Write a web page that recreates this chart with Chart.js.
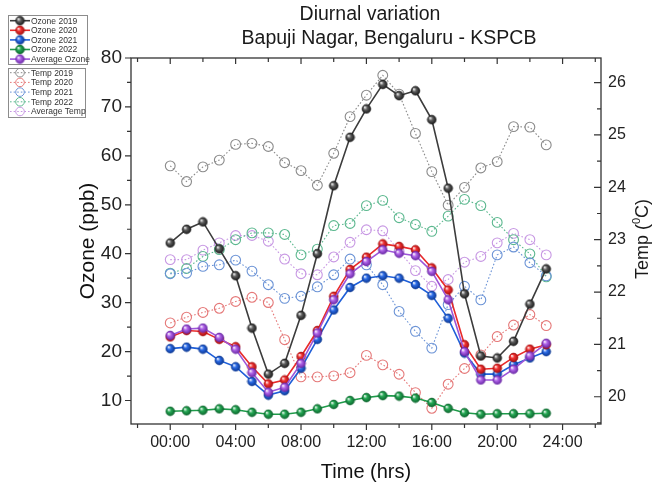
<!DOCTYPE html>
<html>
<head>
<meta charset="utf-8">
<script src="https://cdn.jsdelivr.net/npm/chart.js@4.4.1/dist/chart.umd.min.js"></script>
<style>
  html, body { margin: 0; padding: 0; background: #fff; }
</style>
</head>
<body>
<canvas id="chart" width="654" height="486"></canvas>
<script>
// hours of the day
const hours = [0, 1, 2, 3, 4, 5, 6, 7, 8, 9, 10, 11, 12, 13, 14, 15, 16, 17, 18, 19, 20, 21, 22, 23];

// ozone (ppb)
const ozone2019 = [42.2, 45.0, 46.5, 41.0, 35.5, 24.8, 15.4, 17.6, 27.4, 40.0, 53.9, 63.8, 69.6, 74.6, 72.3, 73.3, 67.4, 53.4, 31.8, 19.1, 18.7, 22.1, 29.7, 36.9];
const ozone2020 = [23.0, 24.3, 24.1, 22.5, 21.0, 16.9, 13.4, 14.2, 19.0, 24.3, 31.3, 36.8, 39.3, 42.0, 41.5, 40.8, 37.1, 32.6, 21.4, 16.4, 16.6, 18.8, 20.5, 21.4];
const ozone2021 = [20.6, 20.9, 20.5, 18.2, 16.9, 13.9, 11.1, 12.0, 16.6, 22.5, 28.5, 33.1, 35.0, 35.5, 35.0, 33.7, 31.5, 26.8, 19.7, 15.4, 15.4, 17.3, 18.7, 20.0];
const ozone2022 = [7.8, 7.9, 8.0, 8.3, 8.1, 7.6, 7.2, 7.2, 7.6, 8.3, 9.2, 10.0, 10.6, 11.0, 10.9, 10.5, 9.6, 8.4, 7.5, 7.2, 7.3, 7.3, 7.3, 7.4];
const ozoneAvg = [23.3, 24.6, 24.8, 22.9, 20.5, 15.7, 11.7, 12.7, 17.6, 23.8, 30.6, 35.9, 38.4, 40.8, 40.1, 39.6, 36.4, 30.6, 20.0, 14.2, 14.2, 16.4, 19.1, 21.7];

// temperature (deg C)
const temp2019 = [24.41, 24.11, 24.39, 24.52, 24.82, 24.84, 24.78, 24.47, 24.32, 24.04, 24.65, 25.35, 25.76, 26.14, 25.78, 25.03, 24.30, 23.66, 24.00, 24.37, 24.49, 25.16, 25.15, 24.81];
const temp2020 = [21.41, 21.52, 21.61, 21.69, 21.82, 21.90, 21.80, 21.09, 20.38, 20.38, 20.40, 20.46, 20.79, 20.61, 20.43, 20.08, 19.78, 20.24, 20.54, 20.80, 21.15, 21.37, 21.57, 21.36];
const temp2021 = [22.35, 22.36, 22.49, 22.52, 22.61, 22.40, 22.14, 21.88, 21.92, 22.10, 22.33, 22.63, 22.52, 22.14, 21.63, 21.25, 20.93, 21.76, 22.11, 21.85, 22.71, 22.86, 22.56, 22.31];
const temp2022 = [22.36, 22.45, 22.68, 22.81, 23.00, 23.13, 23.13, 23.10, 22.71, 22.82, 23.27, 23.31, 23.65, 23.75, 23.42, 23.29, 23.16, 23.45, 23.77, 23.65, 23.33, 23.00, 22.73, 22.29];
const tempAvg = [22.62, 22.62, 22.80, 22.94, 23.08, 23.08, 22.97, 22.63, 22.35, 22.33, 22.67, 22.95, 23.19, 23.17, 22.78, 22.41, 22.11, 22.24, 22.57, 22.68, 22.94, 23.12, 23.00, 22.71];

// tick labels
const timeTicks = [0, 4, 8, 12, 16, 20, 24];
const ozoneTicks = [10, 20, 30, 40, 50, 60, 70, 80];
const tempTicks = [20, 21, 22, 23, 24, 25, 26];

const FONT = "'Liberation Sans', Arial, sans-serif";

// shaded ball used as the filled marker
function ball(base, dark, r) {
    const c = document.createElement('canvas');
    const s = Math.ceil(r * 2 + 2);
    c.width = c.height = s;
    const g = c.getContext('2d');
    const m = s / 2;
    const grad = g.createRadialGradient(m - r * 0.4, m - r * 0.4, r * 0.05, m, m, r);
    grad.addColorStop(0, '#ffffff');
    grad.addColorStop(0.4, base);
    grad.addColorStop(1, dark);
    g.fillStyle = grad;
    g.beginPath();
    g.arc(m, m, r, 0, Math.PI * 2);
    g.fill();
    g.strokeStyle = dark;
    g.lineWidth = 0.6;
    g.stroke();
    return c;
}

function pts(arr) {
    return hours.map((h, i) => ({ x: h, y: arr[i] }));
}

function ozoneSet(label, arr, line, base, dark, order) {
    return {
        label: label, data: pts(arr), yAxisID: 'y', order: order,
        borderColor: line, borderWidth: 1.6,
        pointStyle: ball(base, dark, 4.4), pointRadius: 4.4,
        kind: 'ozone'
    };
}

function tempSet(label, arr, color, order) {
    return {
        label: label, data: pts(arr), yAxisID: 'y1', order: order,
        borderColor: color, borderWidth: 1.1, borderDash: [1.6, 2],
        pointStyle: 'circle', pointRadius: 4.9, pointBorderWidth: 1.1,
        pointBorderColor: color, pointBackgroundColor: 'rgba(255,255,255,0)',
        kind: 'temp'
    };
}

const datasets = [
    ozoneSet('Ozone 2019', ozone2019, '#3c3c3c', '#606060', '#1a1a1a', 3),
    ozoneSet('Ozone 2020', ozone2020, '#e82a2a', '#f23434', '#a80e0e', 1),
    ozoneSet('Ozone 2021', ozone2021, '#1f5fd8', '#2d6de8', '#0a3794', 2),
    ozoneSet('Ozone 2022', ozone2022, '#1f9a4a', '#27aa56', '#0b662d', 4),
    ozoneSet('Average Ozone', ozoneAvg, '#9d55d8', '#b266ea', '#6a28a6', 0),
    tempSet('Temp 2019', temp2019, '#8a8a8a', 5),
    tempSet('Temp 2020', temp2020, '#e57878', 6),
    tempSet('Temp 2021', temp2021, '#6b93d6', 7),
    tempSet('Temp 2022', temp2022, '#5cb88f', 8),
    tempSet('Average Temp', tempAvg, '#c797e3', 9)
];

// frame, tick marks, titles and the two legend boxes
const decor = {
    id: 'decor',
    afterDraw(chart) {
        const ctx = chart.ctx;
        const a = chart.chartArea;
        const sx = chart.scales.x, sy = chart.scales.y, sr = chart.scales.y1;
        ctx.save();
        ctx.strokeStyle = '#333';
        ctx.lineWidth = 1.3;
        ctx.strokeRect(a.left, a.top, a.right - a.left, a.bottom - a.top);

        ctx.lineWidth = 1.2;
        ctx.beginPath();
        for (let t = -2; t <= 26; t += 2) {
            const px = sx.getPixelForValue(t);
            if (px < a.left + 1 || px > a.right - 1) continue;
            const len = t % 4 === 0 ? 6 : 4;
            ctx.moveTo(px, a.bottom); ctx.lineTo(px, a.bottom + len);
            ctx.moveTo(px, a.top); ctx.lineTo(px, a.top + len);
        }
        for (let v = 5; v <= 80; v += 5) {
            const py = sy.getPixelForValue(v);
            if (py < a.top - 0.5 || py > a.bottom) continue;
            const len = v % 10 === 0 ? 6 : 4;
            ctx.moveTo(a.left - len, py); ctx.lineTo(a.left, py);
        }
        for (let v = 19.5; v <= 26.5; v += 0.5) {
            const py = sr.getPixelForValue(v);
            if (py < a.top || py > a.bottom) continue;
            const len = Number.isInteger(v) ? 7 : 4;
            ctx.moveTo(a.right - len, py); ctx.lineTo(a.right, py);
        }
        ctx.stroke();

        // main title
        ctx.fillStyle = '#1a1a1a';
        ctx.textAlign = 'center';
        ctx.textBaseline = 'middle';
        ctx.font = '19.5px ' + FONT;
        ctx.fillText('Diurnal variation', 370, 15);
        ctx.fillText('Bapuji Nagar, Bengaluru - KSPCB', 389, 39);

        // right axis title with raised 0
        ctx.translate(643, 239);
        ctx.rotate(-Math.PI / 2);
        const big = '18px ' + FONT, small = '11px ' + FONT;
        ctx.font = big;
        const w1 = ctx.measureText('Temp (').width;
        const w3 = ctx.measureText('C)').width;
        ctx.font = small;
        const w2 = ctx.measureText('0').width;
        let x0 = -(w1 + w2 + w3) / 2;
        ctx.textAlign = 'left';
        ctx.font = big;
        ctx.fillText('Temp (', x0, 0);
        ctx.font = small;
        ctx.fillText('0', x0 + w1, -6);
        ctx.font = big;
        ctx.fillText('C)', x0 + w1 + w2, 0);
        ctx.setTransform(1, 0, 0, 1, 0, 0);

        // legend boxes
        ctx.strokeStyle = '#8c8c8c';
        ctx.lineWidth = 1;
        ctx.strokeRect(8.5, 15.5, 79, 49);
        ctx.strokeRect(8.5, 68.5, 77, 49);
        ctx.font = '8.5px ' + FONT;
        ctx.textAlign = 'left';
        ctx.fillStyle = '#333';
        const oz = chart.data.datasets.filter(d => d.kind === 'ozone');
        const tp = chart.data.datasets.filter(d => d.kind === 'temp');
        oz.forEach((d, i) => {
            const y = 20.7 + i * 9.6;
            ctx.strokeStyle = d.borderColor;
            ctx.lineWidth = 1.6;
            ctx.setLineDash([]);
            ctx.beginPath(); ctx.moveTo(10, y); ctx.lineTo(30, y); ctx.stroke();
            const img = d.pointStyle;
            ctx.drawImage(img, 20 - img.width / 2, y - img.height / 2);
            ctx.fillText(d.label, 31, y + 0.5);
        });
        tp.forEach((d, i) => {
            const y = 72.7 + i * 9.7;
            ctx.strokeStyle = d.borderColor;
            ctx.lineWidth = 1;
            ctx.setLineDash([1.6, 2]);
            ctx.beginPath(); ctx.moveTo(10, y); ctx.lineTo(30, y); ctx.stroke();
            ctx.setLineDash([]);
            ctx.beginPath(); ctx.arc(20, y, 4.3, 0, Math.PI * 2); ctx.stroke();
            ctx.fillText(d.label, 31, y + 0.5);
        });
        ctx.restore();
    }
};

const chart = new Chart(document.getElementById('chart'), {
    type: 'line',
    data: { datasets: datasets },
    options: {
        responsive: false,
        animation: false,
        layout: { padding: { top: 58, left: 0, right: 0, bottom: 0 } },
        plugins: { legend: { display: false }, tooltip: { enabled: false }, title: { display: false } },
        scales: {
            x: {
                type: 'linear', min: -2.4, max: 26.35,
                afterBuildTicks: s => { s.ticks = timeTicks.map(v => ({ value: v })); },
                afterFit: s => { s.height = 62; },
                grid: { display: false, drawTicks: false },
                border: { display: false },
                ticks: {
                    autoSkip: false, maxRotation: 0, padding: 9, color: '#222',
                    font: { size: 16, family: FONT },
                    callback: v => String(v).padStart(2, '0') + ':00'
                },
                title: {
                    display: true, text: 'Time (hrs)', color: '#111',
                    font: { size: 20, family: FONT }, padding: { top: 0, bottom: 2 }
                }
            },
            y: {
                position: 'left', min: 5.2, max: 80,
                afterBuildTicks: s => { s.ticks = ozoneTicks.map(v => ({ value: v })); },
                afterFit: s => { s.width = 131; },
                grid: { display: false, drawTicks: false },
                border: { display: false },
                ticks: { padding: 9, color: '#222', font: { size: 19, family: FONT } },
                title: {
                    display: true, text: 'Ozone (ppb)', color: '#111',
                    font: { size: 21, family: FONT }, padding: { top: 76, bottom: 0 }
                }
            },
            y1: {
                position: 'right', min: 19.48, max: 26.47,
                afterBuildTicks: s => { s.ticks = tempTicks.map(v => ({ value: v })); },
                afterFit: s => { s.width = 53; },
                grid: { display: false, drawTicks: false },
                border: { display: false },
                ticks: { padding: 7, color: '#222', font: { size: 16, family: FONT } }
            }
        }
    },
    plugins: [decor]
});
</script>
</body>
</html>
